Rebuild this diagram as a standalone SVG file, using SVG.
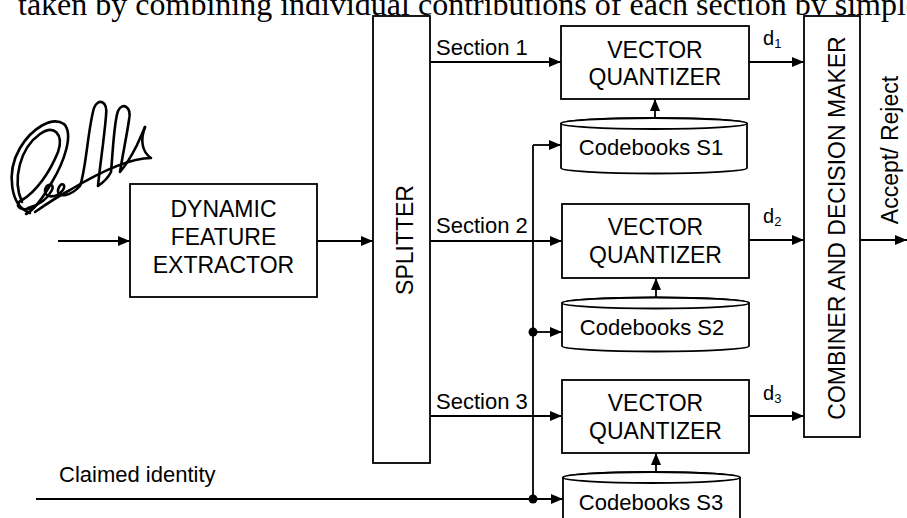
<svg xmlns="http://www.w3.org/2000/svg" width="907" height="518" viewBox="0 0 907 518">
<defs>
<marker id="arr" markerUnits="userSpaceOnUse" markerWidth="12" markerHeight="10" refX="12" refY="5" orient="auto">
<path d="M0,0 L12,5 L0,10 Z" fill="#000"/>
</marker>
<style>
.box{fill:#fff;stroke:#000;stroke-width:1.8}
.ln{fill:none;stroke:#000;stroke-width:1.8}
.t{font-family:"Liberation Sans",Arial,sans-serif;font-size:23px;fill:#000}
.l{font-family:"Liberation Sans",Arial,sans-serif;font-size:22px;fill:#000}
.d{font-family:"Liberation Sans",Arial,sans-serif;font-size:20px;fill:#000}
.sub{font-size:13px}
.sig{fill:none;stroke:#000;stroke-width:2.6;stroke-linecap:round;stroke-linejoin:round}
</style>
</defs>
<rect width="907" height="518" fill="#fff"/>
<text x="18" y="15" style="font-family:'Liberation Serif','Times New Roman',serif;font-size:32px">taken by combining individual contributions of each section by simple</text>

<g id="signature">
<path class="sig" d="M30 213 C10 206,6 172,20 148 C32 128,52 116,64 124 C74 134,64 162,52 182 C44 196,34 210,26 214"/>
<path class="sig" d="M22 202 C12 180,20 148,40 134 C54 124,64 134,58 152 C50 172,36 192,22 200 C14 204,18 212,32 208"/>
<path class="sig" d="M28 208 C40 205,48 198,52 190 C55 184,47 182,45 190 C44 198,56 199,63 190 C67 184,60 181,58 190 C57 198,70 197,80 186 C86 170,88 128,94 108 C98 98,108 100,106 116 C104 140,100 165,98 186 C104 182,108 178,111 172 C113 150,114 122,118 111 C122 102,132 106,129 120 C126 140,122 158,120 172 C126 165,132 155,137 145 C140 138,143 132,145 127"/>
<path class="sig" d="M145 127 C140 140,142 152,151 158 C130 158,100 172,70 190 C55 198,45 205,35 212"/>
</g>

<g id="connectors">
<line class="ln" x1="58" y1="241" x2="130" y2="241" marker-end="url(#arr)"/>
<line class="ln" x1="317" y1="241" x2="373" y2="241" marker-end="url(#arr)"/>
<line class="ln" x1="430" y1="62" x2="561" y2="62" marker-end="url(#arr)"/>
<line class="ln" x1="430" y1="241" x2="562" y2="241" marker-end="url(#arr)"/>
<line class="ln" x1="430" y1="416" x2="562" y2="416" marker-end="url(#arr)"/>
<line class="ln" x1="533" y1="145" x2="533" y2="499"/>
<line class="ln" x1="533" y1="145" x2="561" y2="145" marker-end="url(#arr)"/>
<line class="ln" x1="533" y1="332" x2="562" y2="332" marker-end="url(#arr)"/>
<line class="ln" x1="36" y1="499" x2="563" y2="499" marker-end="url(#arr)"/>
<circle cx="533" cy="332" r="4.5" fill="#000"/>
<circle cx="533" cy="499" r="4.5" fill="#000"/>
<line class="ln" x1="655" y1="136" x2="655" y2="99" marker-end="url(#arr)"/>
<line class="ln" x1="656" y1="315" x2="656" y2="278" marker-end="url(#arr)"/>
<line class="ln" x1="656" y1="490" x2="656" y2="453" marker-end="url(#arr)"/>
<line class="ln" x1="749" y1="62" x2="804" y2="62" marker-end="url(#arr)"/>
<line class="ln" x1="749" y1="240" x2="804" y2="240" marker-end="url(#arr)"/>
<line class="ln" x1="749" y1="416" x2="804" y2="416" marker-end="url(#arr)"/>
<line class="ln" x1="860" y1="240" x2="907" y2="240" marker-end="url(#arr)"/>
<text class="l" x="436" y="55">Section 1</text>
<text class="l" x="436" y="233">Section 2</text>
<text class="l" x="436" y="409">Section 3</text>
<text class="d" x="763" y="45">d<tspan class="sub" dy="3">1</tspan></text>
<text class="d" x="763" y="223">d<tspan class="sub" dy="3">2</tspan></text>
<text class="d" x="763" y="400">d<tspan class="sub" dy="3">3</tspan></text>
<text class="l" x="59" y="482">Claimed identity</text>
<text class="t" transform="translate(898,150) rotate(-90)" text-anchor="middle">Accept/ Reject</text>
</g>

<g id="extractor">
<rect class="box" x="130" y="184" width="187" height="113"/>
<text class="t" x="223.5" y="217" text-anchor="middle">DYNAMIC</text>
<text class="t" x="223.5" y="245" text-anchor="middle">FEATURE</text>
<text class="t" x="223.5" y="273" text-anchor="middle">EXTRACTOR</text>
</g>

<g id="splitter">
<rect class="box" x="373" y="16" width="57" height="447"/>
<text class="t" transform="translate(413,240) rotate(-90)" text-anchor="middle">SPLITTER</text>
</g>

<g id="vq1">
<rect class="box" x="561" y="26" width="188" height="73"/>
<text class="t" x="655" y="58" text-anchor="middle">VECTOR</text>
<text class="t" x="655" y="85" text-anchor="middle">QUANTIZER</text>
</g>
<g id="vq2">
<rect class="box" x="562" y="204" width="187" height="74"/>
<text class="t" x="655.5" y="235" text-anchor="middle">VECTOR</text>
<text class="t" x="655.5" y="263" text-anchor="middle">QUANTIZER</text>
</g>
<g id="vq3">
<rect class="box" x="562" y="380" width="187" height="73"/>
<text class="t" x="655.5" y="411" text-anchor="middle">VECTOR</text>
<text class="t" x="655.5" y="439" text-anchor="middle">QUANTIZER</text>
</g>

<g id="cb1">
<path class="box" d="M561 123.5 A93 5.5 0 0 1 747 123.5 L747 168 A93 5.5 0 0 1 561 168 Z"/>
<ellipse class="box" cx="654" cy="123.5" rx="93" ry="5.5"/>
<text class="l" x="651" y="155" text-anchor="middle">Codebooks S1</text>
</g>
<g id="cb2">
<path class="box" d="M562 303 A93.5 5.5 0 0 1 749 303 L749 346 A93.5 5.5 0 0 1 562 346 Z"/>
<ellipse class="box" cx="655.5" cy="303" rx="93.5" ry="5.5"/>
<text class="l" x="652" y="335" text-anchor="middle">Codebooks S2</text>
</g>
<g id="cb3">
<path class="box" d="M563 477.5 A88.5 5.5 0 0 1 740 477.5 L740 530 L563 530 Z"/>
<ellipse class="box" cx="651.5" cy="477.5" rx="88.5" ry="5.5"/>
<text class="l" x="651" y="510" text-anchor="middle">Codebooks S3</text>
</g>

<g id="combiner">
<rect class="box" x="804" y="16" width="56" height="421"/>
<text class="t" transform="translate(845,228) rotate(-90)" text-anchor="middle">COMBINER AND DECISION MAKER</text>
</g>
</svg>
